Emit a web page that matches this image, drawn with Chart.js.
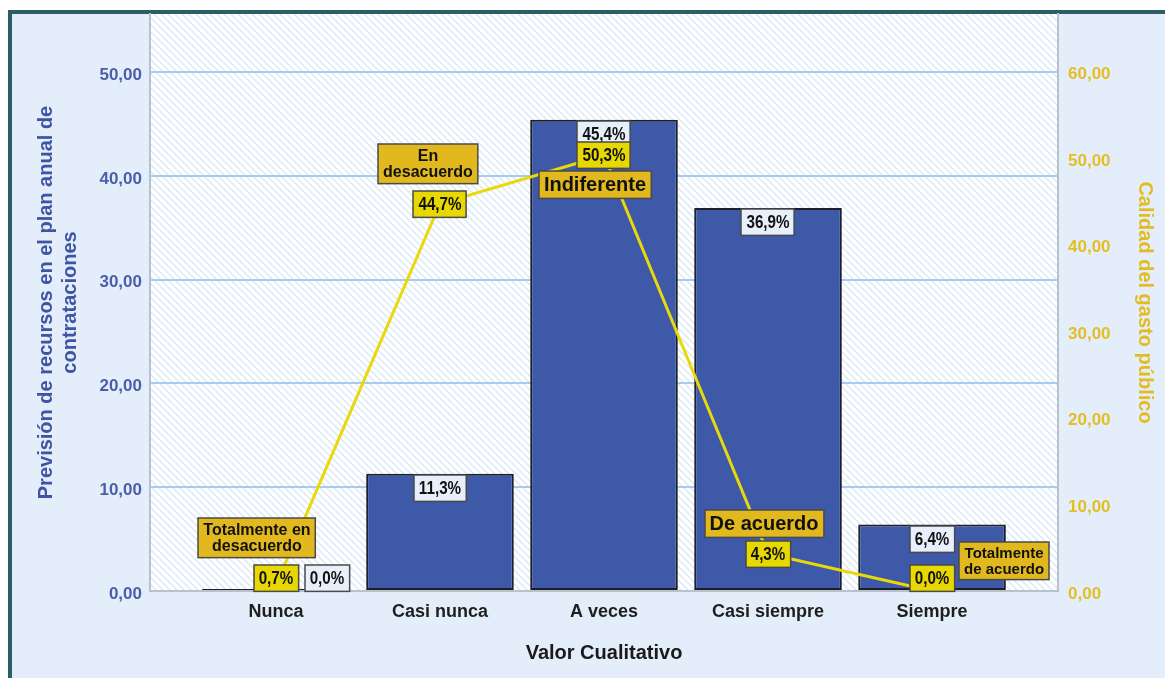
<!DOCTYPE html>
<html lang="es">
<head>
<meta charset="utf-8">
<title>Valor Cualitativo</title>
<script src="https://cdn.jsdelivr.net/npm/chart.js@4.4.1/dist/chart.umd.min.js"></script>
<style>
  html, body { margin: 0; padding: 0; background: #ffffff; }
  #frame {
    position: absolute; left: 8px; top: 10px; width: 1153px; height: 664px;
    background: #e3eefa; border-left: 4px solid #2b5e67; border-top: 4px solid #2b5e67;
  }
  #chart { position: absolute; left: 0; top: 0; }
</style>
</head>
<body>
<div id="frame"></div>
<canvas id="chart" width="1165" height="678"></canvas>
<script>
// Data
const categories = ['Nunca', 'Casi nunca', 'A veces', 'Casi siempre', 'Siempre'];
const barValues = [0.0, 11.3, 45.4, 36.9, 6.4];   // Previsión de recursos (%)
const lineValues = [0.7, 44.7, 50.3, 4.3, 0.0];   // Calidad del gasto público (%)
const lineCategoryLabels = [
  ['Totalmente en', 'desacuerdo'],
  ['En', 'desacuerdo'],
  ['Indiferente'],
  ['De acuerdo'],
  ['Totalmente', 'de acuerdo']
];
const leftTicks = [0, 10, 20, 30, 40, 50];
const rightTicks = [0, 10, 20, 30, 40, 50, 60];

// Annotation layout (pixels relative to the line point)
const catLabelOffsets = [[-19, -47], [-12, -40], [-9, 29], [-4, -30], [72, -30]];
const catLabelSizes = [16, 16, 20, 20, 15];
const barLabelShift = [51, 0, 0, 0, 0];

const sans = '"Liberation Sans", Arial, sans-serif';
const valueSize = 19;
const valueSqueeze = 0.8;

const pct = (v) => v.toFixed(1).replace('.', ',') + '%';
const comma = (v) => v.toFixed(2).replace('.', ',');

// Hatched plot background
const hatchTile = document.createElement('canvas');
hatchTile.width = 7;
hatchTile.height = 7;
const hg = hatchTile.getContext('2d');
hg.fillStyle = '#ffffff';
hg.fillRect(0, 0, 7, 7);
hg.strokeStyle = '#d9e6f6';
hg.lineWidth = 1.3;
hg.beginPath();
hg.moveTo(-2, -2); hg.lineTo(9, 9);
hg.moveTo(-2, 5); hg.lineTo(2, 9);
hg.moveTo(5, -2); hg.lineTo(9, 2);
hg.stroke();

const plotBackground = {
  id: 'plotBackground',
  beforeDraw(chart) {
    const { ctx, chartArea: a } = chart;
    ctx.save();
    ctx.fillStyle = ctx.createPattern(hatchTile, 'repeat');
    ctx.fillRect(a.left, a.top, a.right - a.left, a.bottom - a.top);
    ctx.restore();
  }
};

// boxed text; squeeze < 1 narrows the glyphs horizontally
const drawTag = (ctx, lines, cx, cy, size, squeeze, fill) => {
  ctx.font = `bold ${size}px ${sans}`;
  const lh = size * 1.02;
  const w = Math.max(...lines.map(l => ctx.measureText(l).width)) * squeeze + 10;
  const h = lines.length * lh + 7;
  const x = Math.round(cx - w / 2);
  const y = Math.round(cy - h / 2);
  ctx.fillStyle = fill;
  ctx.fillRect(x, y, w, h);
  ctx.strokeStyle = '#4a4a4a';
  ctx.lineWidth = 1.5;
  ctx.strokeRect(x, y, w, h);
  ctx.fillStyle = '#111111';
  ctx.textAlign = 'center';
  ctx.textBaseline = 'middle';
  lines.forEach((l, k) => {
    ctx.save();
    ctx.translate(cx, y + 3.5 + lh * (k + 0.5) + 1);
    ctx.scale(squeeze, 1);
    ctx.fillText(l, 0, 0);
    ctx.restore();
  });
};

const valueTags = {
  id: 'valueTags',
  afterDatasetsDraw(chart) {
    const { ctx } = chart;
    const base = chart.scales.y.getPixelForValue(0);
    const bars = chart.getDatasetMeta(0).data;
    const points = chart.getDatasetMeta(1).data;
    const tagH = valueSize * 1.02 + 7;
    ctx.save();
    bars.forEach((bar, i) => {
      const top = Math.min(bar.y + 1, base - tagH);
      drawTag(ctx, [pct(barValues[i])], bar.x + barLabelShift[i], top + tagH / 2, valueSize, valueSqueeze, '#e7f0fa');
    });
    points.forEach((pt, i) => {
      const [dx, dy] = catLabelOffsets[i];
      drawTag(ctx, lineCategoryLabels[i], pt.x + dx, pt.y + dy, catLabelSizes[i], 1, '#e1b91f');
    });
    points.forEach((pt, i) => {
      const cy = Math.min(pt.y, base - tagH / 2);
      drawTag(ctx, [pct(lineValues[i])], pt.x, cy, valueSize, valueSqueeze, '#e6d800');
    });
    ctx.restore();
  }
};

new Chart(document.getElementById('chart'), {
  type: 'bar',
  data: {
    datasets: [
      {
        type: 'bar',
        data: barValues.map((v, i) => ({ x: i, y: v })),
        backgroundColor: '#3f59a9',
        borderColor: '#1c1f26',
        borderWidth: 2,
        borderSkipped: false,
        barPercentage: 0.9,
        categoryPercentage: 1,
        minBarLength: 2,
        yAxisID: 'y',
        order: 2
      },
      {
        type: 'line',
        data: lineValues.map((v, i) => ({ x: i, y: v })),
        borderColor: '#e8da08',
        borderWidth: 3,
        pointRadius: 0,
        tension: 0,
        yAxisID: 'y1',
        order: 1
      }
    ]
  },
  options: {
    responsive: false,
    animation: false,
    layout: { padding: { left: 12, top: 14, right: 0, bottom: 0 } },
    plugins: {
      legend: { display: false },
      tooltip: { enabled: false }
    },
    scales: {
      x: {
        type: 'linear',
        position: 'bottom',
        min: -0.768,
        max: 4.768,
        offset: false,
        grid: { display: false, drawTicks: false },
        border: { color: '#b8c2cc', width: 2 },
        afterBuildTicks: (axis) => { axis.ticks = categories.map((c, i) => ({ value: i })); },
        afterFit: (scale) => {
          scale.height = 87;
          scale.paddingLeft = 0;
          scale.paddingRight = 0;
        },
        ticks: {
          autoSkip: false,
          maxRotation: 0,
          padding: 10,
          color: '#1e1e1e',
          font: { family: sans, size: 18, weight: 'bold' },
          callback: (v) => categories[v]
        },
        title: {
          display: true,
          text: 'Valor Cualitativo',
          color: '#1a1a1a',
          font: { family: sans, size: 20, weight: 'bold', lineHeight: 1.2 },
          padding: { top: 0, bottom: 13 }
        }
      },
      y: {
        position: 'left',
        min: 0,
        max: 55.6,
        afterBuildTicks: (axis) => { axis.ticks = leftTicks.map(v => ({ value: v })); },
        afterFit: (scale) => {
          scale.width = 138;
          scale.paddingTop = 0;
          scale.paddingBottom = 0;
        },
        grid: {
          drawTicks: false,
          lineWidth: 2,
          color: (c) => (c.tick && c.tick.value === 0 ? 'rgba(0,0,0,0)' : '#a9caf0')
        },
        border: { color: '#b8c2cc', width: 2 },
        ticks: {
          padding: 8,
          labelOffset: 3,
          color: '#4a5ea9',
          font: { family: sans, size: 17, weight: 'bold' },
          callback: (v) => comma(v)
        },
        title: {
          display: true,
          text: ['Previsión de recursos en el plan anual de', 'contrataciones'],
          color: '#3f55a4',
          font: { family: sans, size: 20, weight: 'bold', lineHeight: 1.2 },
          padding: { top: 22, bottom: 0 }
        }
      },
      y1: {
        position: 'right',
        min: 0,
        max: 66.6,
        afterBuildTicks: (axis) => { axis.ticks = rightTicks.map(v => ({ value: v })); },
        afterFit: (scale) => {
          scale.width = 107;
          scale.paddingTop = 0;
          scale.paddingBottom = 0;
        },
        grid: { display: false, drawTicks: false },
        border: { color: '#b8c2cc', width: 2 },
        ticks: {
          padding: 10,
          labelOffset: 3,
          color: '#e3be25',
          font: { family: sans, size: 17, weight: 'bold' },
          callback: (v) => comma(v)
        },
        title: {
          display: true,
          text: 'Calidad del gasto público',
          color: '#e2bc22',
          font: { family: sans, size: 20, weight: 'bold', lineHeight: 1.25 },
          padding: { top: 8, bottom: 0 }
        }
      }
    }
  },
  plugins: [plotBackground, valueTags]
});
</script>
</body>
</html>
